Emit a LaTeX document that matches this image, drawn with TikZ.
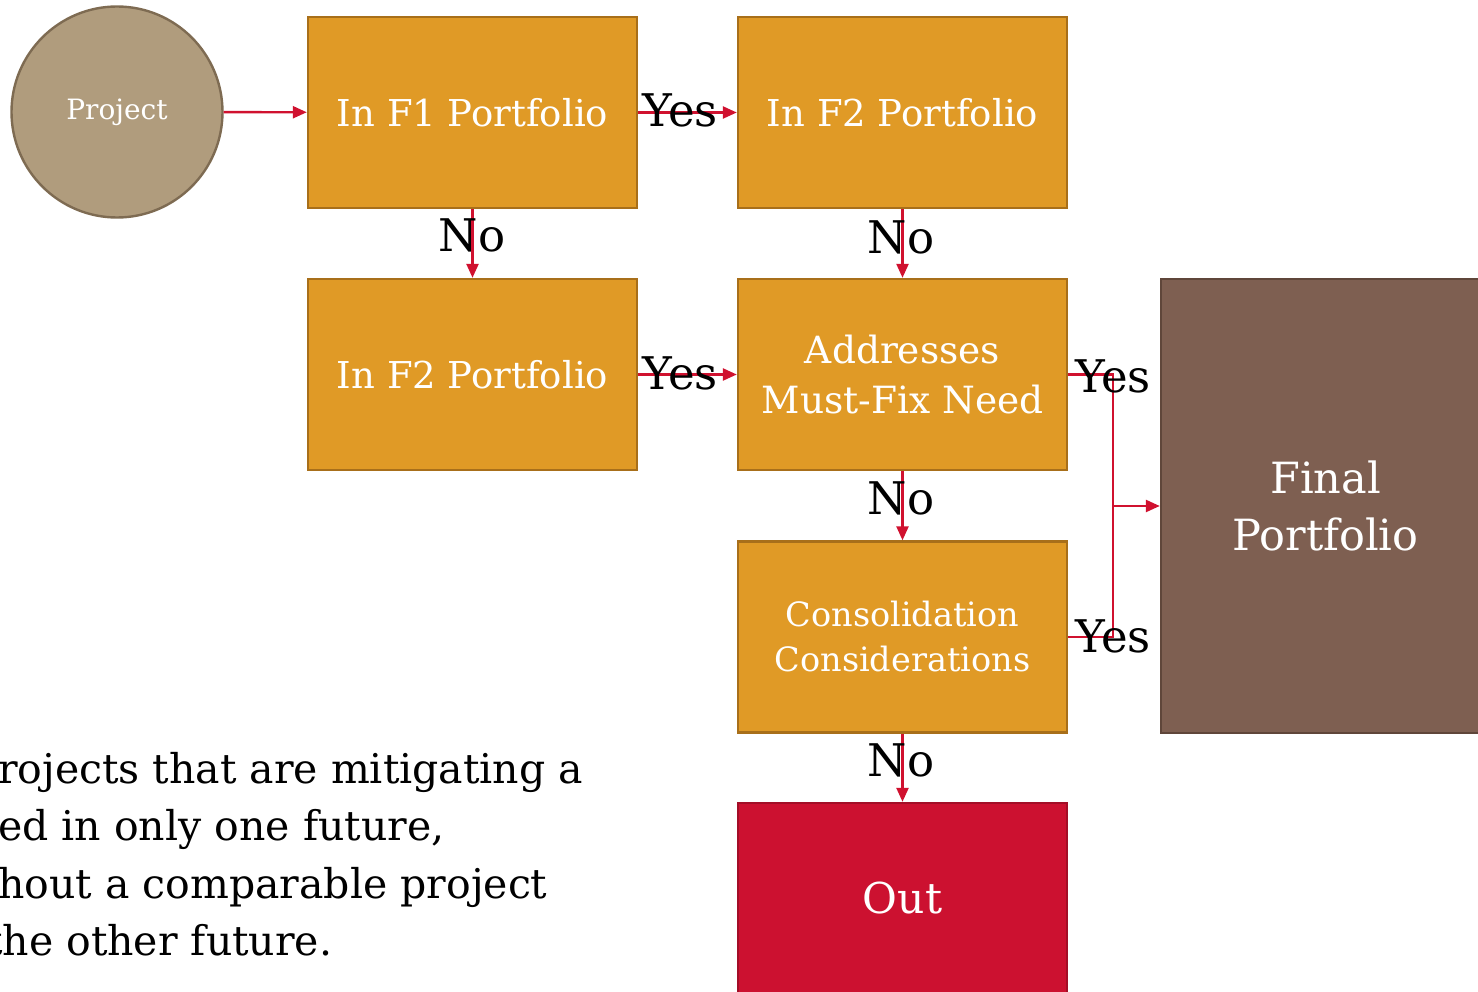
\documentclass[tikz,border=0pt]{standalone}
\usepackage{fontspec}
\setmainfont{DejaVu Serif}
\usetikzlibrary{arrows.meta}
\definecolor{boxorange}{HTML}{E09A26}
\definecolor{boxorangeline}{HTML}{A86F1A}
\definecolor{projfill}{HTML}{B09C7D}
\definecolor{projline}{HTML}{7E6B52}
\definecolor{finalfill}{HTML}{7E5F51}
\definecolor{finalline}{HTML}{5F463A}
\definecolor{outfill}{HTML}{CC1130}
\definecolor{outline}{HTML}{A30E27}
\definecolor{arrowred}{HTML}{D0112F}
\tikzset{
  stepbox/.style={rectangle, draw=boxorangeline, fill=boxorange, line width=2.4pt,
    minimum width=329pt, minimum height=191pt, text=white, align=center, inner sep=0pt},
  flow/.style={draw=arrowred, line width=2.4pt, -{Triangle[length=14pt,width=12pt]}},
  flowline/.style={draw=arrowred, line width=2.4pt},
  lbl/.style={text=black, font=\fontsize{45}{48}\selectfont, inner sep=0pt},
  note/.style={text=black, font=\fontsize{41}{46}\selectfont, inner sep=0pt, anchor=base west}
}
\begin{document}
\begin{tikzpicture}[x=1pt,y=-1pt]
\useasboundingbox (0,0) rectangle (1478,992);
\clip (0,0) rectangle (1478,992);
\node[circle, draw=projline, fill=projfill, line width=2.4pt, minimum size=211pt, text=white,
  font=\fontsize{28}{32}\selectfont, inner sep=0pt] (proj) at (117,112) {Project};
\node[stepbox, font=\fontsize{37}{42}\selectfont] (f1) at (472.5,112.5) {In F1 Portfolio};
\node[stepbox, font=\fontsize{37}{42}\selectfont] (f2a) at (902.5,112.5) {In F2 Portfolio};
\node[stepbox, font=\fontsize{37}{42}\selectfont] (f2b) at (472.5,374.5) {In F2 Portfolio};
\node[stepbox, font=\fontsize{37.5}{50}\selectfont] (addr) at (902.5,374.5) {Addresses\\Must-Fix Need};
\node[stepbox, font=\fontsize{33.5}{45}\selectfont] (cons) at (902.5,637) {Consolidation\\Considerations};
\node[rectangle, draw=outline, fill=outfill, line width=2.4pt, minimum width=329pt, minimum height=191pt,
  text=white, font=\fontsize{42.5}{46}\selectfont, inner sep=0pt] (out) at (902.5,898.5) {Out};
\node[rectangle, draw=finalline, fill=finalfill, line width=2.4pt, minimum width=329pt, minimum height=454pt,
  text=white, align=center, font=\fontsize{43}{57}\selectfont, inner sep=0pt] (final) at (1325.5,506) {Final\\Portfolio};
\coordinate (j1) at (1113,374.5);
\coordinate (j2) at (1113,637);
\coordinate (jm) at (1113,506);
\draw[flow] (proj) -- (f1);
\draw[flow] (f1) -- (f2a);
\draw[flow] (f1) -- (f2b);
\draw[flow] (f2a) -- (addr);
\draw[flow] (f2b) -- (addr);
\draw[flow] (addr) -- (cons);
\draw[flow] (cons) -- (out);
\draw[flowline] (addr.east) -- (j1) -- (j2) -- (cons.east);
\draw[flow] (jm) -- (final.west);
\node[lbl] (yes1) at (680,110) {Yes};
\node[lbl] (yes2) at (680,373) {Yes};
\node[lbl] (yes3) at (1113,376) {Yes};
\node[lbl] (yes4) at (1113,636) {Yes};
\node[lbl] (no1) at (472,235) {No};
\node[lbl] (no2) at (901,237) {No};
\node[lbl] (no3) at (901,498) {No};
\node[lbl] (no4) at (901,760) {No};
\node[note] (t1) at (-2,783) {rojects that are mitigating a};
\node[note] (t2) at (-2,840) {ed in only one future,};
\node[note] (t3) at (-2,898) {hout a comparable project};
\node[note] (t4) at (-14,955) {the other future.};
\end{tikzpicture}
\end{document}
